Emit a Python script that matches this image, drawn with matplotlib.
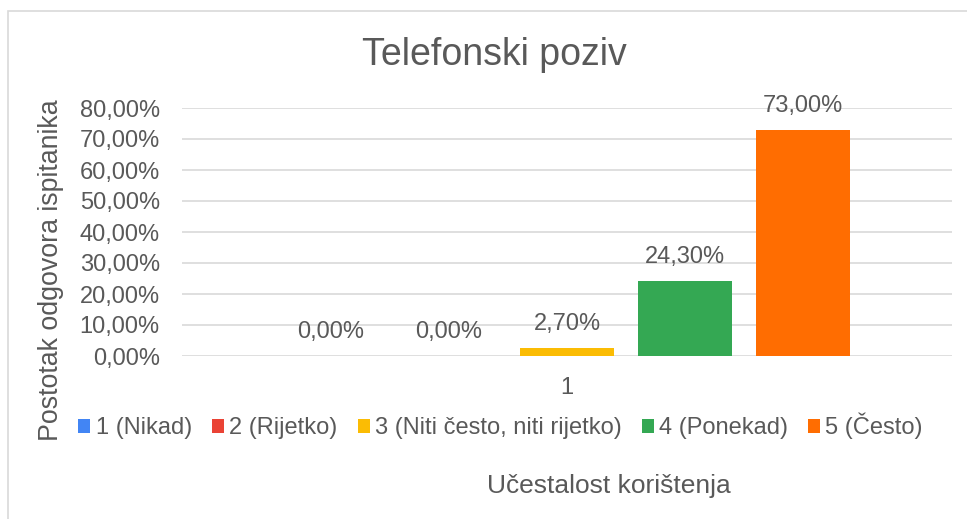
import matplotlib.pyplot as plt
from matplotlib.patches import Rectangle
from matplotlib.ticker import FuncFormatter

plt.rcParams['font.family'] = ['Liberation Sans', 'DejaVu Sans']

categories = ['1']
series = ['1 (Nikad)', '2 (Rijetko)', '3 (Niti često, niti rijetko)', '4 (Ponekad)', '5 (Često)']
values = [0.0, 0.0, 2.7, 24.3, 73.0]
colors = ['#4285F4', '#EA4335', '#FBBC04', '#34A853', '#FF6D01']
yticks = [0, 10, 20, 30, 40, 50, 60, 70, 80]

txt = '#595959'
grid = '#d9d9d9'

def pct(v):
    return f"{v:.2f}".replace('.', ',') + '%'

fig = plt.figure(figsize=(9.67, 5.19), dpi=100)
ax = fig.add_axes([182/967, 1 - 356/519, 770/967, 248/519])

# frame around the chart (only left/top visible in the screenshot)
fig.patches.append(Rectangle((8/967, -0.1), 1.2, 1.1 - 11/519, transform=fig.transFigure,
                             fill=False, edgecolor=grid, linewidth=1.2))

step = 0.1532
width = 0.122
n = len(series)
handles = []
for i, (name, v, c) in enumerate(zip(series, values, colors)):
    x = 0 + (i - (n - 1) / 2) * step
    b = ax.bar(x, v, width=width, color=c, label=name, zorder=3)
    handles.append(b[0])
    ax.annotate(pct(v), (x, v), xytext=(0, 17), textcoords='offset points',
                ha='center', va='center', fontsize=17, color=txt, annotation_clip=False)

ax.set_xlim(-0.5, 0.5)
ax.set_ylim(0, 80)
ax.set_yticks(yticks)
ax.yaxis.set_major_formatter(FuncFormatter(lambda v, p: pct(v)))
ax.set_xticks([0])
ax.set_xticklabels(categories)
ax.tick_params(axis='y', length=0, pad=16, labelsize=17, labelcolor=txt)
ax.tick_params(axis='x', length=0, pad=15, labelsize=17, labelcolor=txt)
ax.grid(axis='y', color=grid, linewidth=1.2, zorder=0)
for s in ax.spines.values():
    s.set_visible(False)

fig.text(494/967, 1 - 65/519, 'Telefonski poziv', ha='center', va='baseline',
         fontsize=27, color=txt)
fig.text(51/967, 1 - 270/519, 'Postotak odgovora ispitanika', rotation=90,
         ha='center', va='center', fontsize=19.3, color=txt)
fig.text(609/967, 1 - 493/519, 'Učestalost korištenja', ha='center', va='baseline',
         fontsize=19, color=txt)

fig.legend(handles=handles, labels=series, loc='center', bbox_to_anchor=(500.5/967, 1 - 426/519),
           ncol=5, frameon=False, fontsize=17, labelcolor=txt,
           handlelength=0.51, handleheight=0.51, handletextpad=0.22, columnspacing=0.85,
           borderaxespad=0, borderpad=0)

fig.savefig('out.png', dpi=100)
